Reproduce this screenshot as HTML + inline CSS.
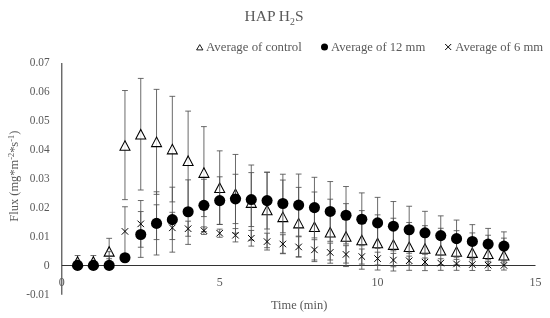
<!DOCTYPE html>
<html><head><meta charset="utf-8"><title>HAP H2S</title>
<style>html,body{margin:0;padding:0;background:#fff}svg{display:block}</style></head>
<body>
<svg width="550" height="318" viewBox="0 0 550 318">
<rect width="550" height="318" fill="#fff"/>
<g stroke="#333" stroke-width="1.05" fill="none"><path d="M61.80 63.10V294.80"/><path d="M61.80 265.40H535.50"/></g>
<g stroke="#505050" stroke-width="0.85" fill="none"><path d="M77.59 255.54V265.40M74.69 255.54h5.8M74.69 265.40h5.8"/><path d="M93.38 255.54V265.40M90.48 255.54h5.8M90.48 265.40h5.8"/><path d="M109.17 238.34V264.44M106.27 238.34h5.8M106.27 264.44h5.8"/><path d="M124.96 90.53V199.63M122.06 90.53h5.8M122.06 199.63h5.8"/><path d="M140.75 78.41V190.00M137.85 78.41h5.8M137.85 190.00h5.8"/><path d="M156.54 89.37V194.35M153.64 89.37h5.8M153.64 194.35h5.8"/><path d="M172.33 96.33V201.89M169.43 96.33h5.8M169.43 201.89h5.8"/><path d="M188.12 111.12V210.30M185.22 111.12h5.8M185.22 210.30h5.8"/><path d="M203.91 126.61V216.59M201.01 126.61h5.8M201.01 216.59h5.8"/><path d="M219.70 150.85V224.51M216.80 150.85h5.8M216.80 224.51h5.8"/><path d="M235.49 154.45V233.21M232.59 154.45h5.8M232.59 233.21h5.8"/><path d="M251.28 165.03V240.20M248.38 165.03h5.8M248.38 240.20h5.8"/><path d="M267.07 172.31V247.71M264.17 172.31h5.8M264.17 247.71h5.8"/><path d="M282.86 180.05V253.71M279.96 180.05h5.8M279.96 253.71h5.8"/><path d="M298.65 187.39V256.70M295.75 187.39h5.8M295.75 256.70h5.8"/><path d="M314.44 192.00V261.60M311.54 192.00h5.8M311.54 261.60h5.8"/><path d="M330.23 199.19V263.20M327.33 199.19h5.8M327.33 263.20h5.8"/><path d="M346.02 203.63V266.56M343.12 203.63h5.8M343.12 266.56h5.8"/><path d="M361.81 210.62V269.20M358.91 210.62h5.8M358.91 269.20h5.8"/><path d="M377.60 214.85V270.04M374.70 214.85h5.8M374.70 270.04h5.8"/><path d="M393.39 218.22V271.00M390.49 218.22h5.8M390.49 271.00h5.8"/><path d="M409.18 222.48V270.33M406.28 222.48h5.8M406.28 270.33h5.8"/><path d="M424.97 225.67V270.62M422.07 225.67h5.8M422.07 270.62h5.8"/><path d="M440.76 228.28V270.33M437.86 228.28h5.8M437.86 270.33h5.8"/><path d="M456.55 230.66V270.33M453.65 230.66h5.8M453.65 270.33h5.8"/><path d="M472.34 232.92V270.47M469.44 232.92h5.8M469.44 270.47h5.8"/><path d="M488.13 235.24V270.47M485.23 235.24h5.8M485.23 270.47h5.8"/><path d="M503.92 238.14V270.04M501.02 238.14h5.8M501.02 270.04h5.8"/></g>
<g fill="#fff" fill-opacity="0.8" stroke="#000" stroke-width="1.05" stroke-linejoin="miter"><path d="M77.59 256.73L82.59 266.23H72.59Z"/><path d="M93.38 256.73L98.38 266.23H88.38Z"/><path d="M109.17 246.64L114.17 256.14H104.17Z"/><path d="M124.96 140.76L129.96 150.26H119.96Z"/><path d="M140.75 129.45L145.75 138.95H135.75Z"/><path d="M156.54 137.11L161.54 146.61H151.54Z"/><path d="M172.33 144.36L177.33 153.86H167.33Z"/><path d="M188.12 155.96L193.12 165.46H183.12Z"/><path d="M203.91 167.85L208.91 177.35H198.91Z"/><path d="M219.70 182.93L224.70 192.43H214.70Z"/><path d="M235.49 189.08L240.49 198.58H230.49Z"/><path d="M251.28 197.86L256.28 207.36H246.28Z"/><path d="M267.07 205.26L272.07 214.76H262.07Z"/><path d="M282.86 212.13L287.86 221.63H277.86Z"/><path d="M298.65 218.37L303.65 227.87H293.65Z"/><path d="M314.44 222.05L319.44 231.55H309.44Z"/><path d="M330.23 227.42L335.23 236.92H325.23Z"/><path d="M346.02 231.65L351.02 241.15H341.02Z"/><path d="M361.81 235.16L366.81 244.66H356.81Z"/><path d="M377.60 238.23L382.60 247.73H372.60Z"/><path d="M393.39 239.86L398.39 249.36H388.39Z"/><path d="M409.18 242.09L414.18 251.59H404.18Z"/><path d="M424.97 243.83L429.97 253.33H419.97Z"/><path d="M440.76 245.57L445.76 255.07H435.76Z"/><path d="M456.55 246.79L461.55 256.29H451.55Z"/><path d="M472.34 247.89L477.34 257.39H467.34Z"/><path d="M488.13 249.05L493.13 258.55H483.13Z"/><path d="M503.92 250.50L508.92 260.00H498.92Z"/></g>
<g stroke="#505050" stroke-width="0.85" fill="none"><path d="M77.59 264.53V266.27M74.69 264.53h5.8M74.69 266.27h5.8"/><path d="M93.38 264.53V266.27M90.48 264.53h5.8M90.48 266.27h5.8"/><path d="M109.17 251.65V265.40M106.27 251.65h5.8M106.27 265.40h5.8"/><path d="M124.96 253.80V261.05M122.06 253.80h5.8M122.06 261.05h5.8"/><path d="M140.75 211.55V257.37M137.85 211.55h5.8M137.85 257.37h5.8"/><path d="M156.54 191.77V254.99M153.64 191.77h5.8M153.64 254.99h5.8"/><path d="M172.33 187.19V252.15M169.43 187.19h5.8M169.43 252.15h5.8"/><path d="M188.12 179.85V244.40M185.22 179.85h5.8M185.22 244.40h5.8"/><path d="M203.91 179.27V231.47M201.01 179.27h5.8M201.01 231.47h5.8"/><path d="M219.70 176.80V224.36M216.80 176.80h5.8M216.80 224.36h5.8"/><path d="M235.49 174.28V223.58M232.59 174.28h5.8M232.59 223.58h5.8"/><path d="M251.28 172.60V226.54M248.38 172.60h5.8M248.38 226.54h5.8"/><path d="M267.07 172.16V229.00M264.17 172.16h5.8M264.17 229.00h5.8"/><path d="M282.86 174.22V232.80M279.96 174.22h5.8M279.96 232.80h5.8"/><path d="M298.65 174.05V236.11M295.75 174.05h5.8M295.75 236.11h5.8"/><path d="M314.44 177.30V237.91M311.54 177.30h5.8M311.54 237.91h5.8"/><path d="M330.23 181.56V241.30M327.33 181.56h5.8M327.33 241.30h5.8"/><path d="M346.02 186.52V243.94M343.12 186.52h5.8M343.12 243.94h5.8"/><path d="M361.81 192.90V245.68M358.91 192.90h5.8M358.91 245.68h5.8"/><path d="M377.60 197.37V248.41M374.70 197.37h5.8M374.70 248.41h5.8"/><path d="M393.39 201.54V250.84M390.49 201.54h5.8M390.49 250.84h5.8"/><path d="M409.18 206.24V253.22M406.28 206.24h5.8M406.28 253.22h5.8"/><path d="M424.97 211.34V254.26M422.07 211.34h5.8M422.07 254.26h5.8"/><path d="M440.76 215.87V255.31M437.86 215.87h5.8M437.86 255.31h5.8"/><path d="M456.55 220.07V257.19M453.65 220.07h5.8M453.65 257.19h5.8"/><path d="M472.34 224.63V258.27M469.44 224.63h5.8M469.44 258.27h5.8"/><path d="M488.13 228.42V259.75M485.23 228.42h5.8M485.23 259.75h5.8"/><path d="M503.92 231.88V260.30M501.02 231.88h5.8M501.02 260.30h5.8"/></g>
<g stroke="#505050" stroke-width="0.85" fill="none"><path d="M77.59 264.53V266.27M74.69 264.53h5.8M74.69 266.27h5.8"/><path d="M93.38 264.53V266.27M90.48 264.53h5.8M90.48 266.27h5.8"/><path d="M109.17 258.73V265.40M106.27 258.73h5.8M106.27 265.40h5.8"/><path d="M124.96 206.76V256.06M122.06 206.76h5.8M122.06 256.06h5.8"/><path d="M140.75 200.53V247.22M137.85 200.53h5.8M137.85 247.22h5.8"/><path d="M156.54 204.79V239.59M153.64 204.79h5.8M153.64 239.59h5.8"/><path d="M172.33 212.30V239.56M169.43 212.30h5.8M169.43 239.56h5.8"/><path d="M188.12 221.17V236.25M185.22 221.17h5.8M185.22 236.25h5.8"/><path d="M203.91 226.89V234.43M201.01 226.89h5.8M201.01 234.43h5.8"/><path d="M219.70 229.15V237.27M216.80 229.15h5.8M216.80 237.27h5.8"/><path d="M235.49 228.57V241.91M232.59 228.57h5.8M232.59 241.91h5.8"/><path d="M251.28 230.45V246.11M248.38 230.45h5.8M248.38 246.11h5.8"/><path d="M267.07 233.21V250.03M264.17 233.21h5.8M264.17 250.03h5.8"/><path d="M282.86 234.72V253.28M279.96 234.72h5.8M279.96 253.28h5.8"/><path d="M298.65 236.78V257.08M295.75 236.78h5.8M295.75 257.08h5.8"/><path d="M314.44 239.71V260.01M311.54 239.71h5.8M311.54 260.01h5.8"/><path d="M330.23 243.13V260.01M327.33 243.13h5.8M327.33 260.01h5.8"/><path d="M346.02 245.68V263.08M343.12 245.68h5.8M343.12 263.08h5.8"/><path d="M361.81 249.01V264.09M358.91 249.01h5.8M358.91 264.09h5.8"/><path d="M377.60 252.20V264.96M374.70 252.20h5.8M374.70 264.96h5.8"/><path d="M393.39 253.42V266.76M390.49 253.42h5.8M390.49 266.76h5.8"/><path d="M409.18 256.12V265.11M406.28 256.12h5.8M406.28 265.11h5.8"/><path d="M424.97 258.00V265.11M422.07 258.00h5.8M422.07 265.11h5.8"/><path d="M440.76 258.73V264.82M437.86 258.73h5.8M437.86 264.82h5.8"/><path d="M456.55 259.37V264.82M453.65 259.37h5.8M453.65 264.82h5.8"/><path d="M472.34 259.89V265.11M469.44 259.89h5.8M469.44 265.11h5.8"/><path d="M488.13 261.63V265.40M485.23 261.63h5.8M485.23 265.40h5.8"/><path d="M503.92 261.92V265.40M501.02 261.92h5.8M501.02 265.40h5.8"/></g>
<g fill="#000"><circle cx="77.59" cy="265.40" r="5.55"/><circle cx="93.38" cy="265.40" r="5.55"/><circle cx="109.17" cy="265.40" r="5.55"/><circle cx="124.96" cy="257.74" r="5.55"/><circle cx="140.75" cy="234.46" r="5.55"/><circle cx="156.54" cy="223.38" r="5.55"/><circle cx="172.33" cy="219.67" r="5.55"/><circle cx="188.12" cy="211.75" r="5.55"/><circle cx="203.91" cy="205.37" r="5.55"/><circle cx="219.70" cy="200.58" r="5.55"/><circle cx="235.49" cy="198.93" r="5.55"/><circle cx="251.28" cy="199.57" r="5.55"/><circle cx="267.07" cy="200.58" r="5.55"/><circle cx="282.86" cy="203.51" r="5.55"/><circle cx="298.65" cy="205.08" r="5.55"/><circle cx="314.44" cy="207.60" r="5.55"/><circle cx="330.23" cy="211.43" r="5.55"/><circle cx="346.02" cy="215.23" r="5.55"/><circle cx="361.81" cy="219.29" r="5.55"/><circle cx="377.60" cy="222.89" r="5.55"/><circle cx="393.39" cy="226.19" r="5.55"/><circle cx="409.18" cy="229.73" r="5.55"/><circle cx="424.97" cy="232.80" r="5.55"/><circle cx="440.76" cy="235.59" r="5.55"/><circle cx="456.55" cy="238.63" r="5.55"/><circle cx="472.34" cy="241.45" r="5.55"/><circle cx="488.13" cy="244.08" r="5.55"/><circle cx="503.92" cy="246.09" r="5.55"/></g>
<g stroke="#000" stroke-width="1.0" fill="none"><path d="M74.34 262.15l6.50 6.50M74.34 268.65l6.50 -6.50"/><path d="M90.13 262.15l6.50 6.50M90.13 268.65l6.50 -6.50"/><path d="M105.92 262.15l6.50 6.50M105.92 268.65l6.50 -6.50"/><path d="M121.71 228.16l6.50 6.50M121.71 234.66l6.50 -6.50"/><path d="M137.50 220.62l6.50 6.50M137.50 227.12l6.50 -6.50"/><path d="M153.29 218.94l6.50 6.50M153.29 225.44l6.50 -6.50"/><path d="M169.08 224.59l6.50 6.50M169.08 231.09l6.50 -6.50"/><path d="M184.87 225.46l6.50 6.50M184.87 231.96l6.50 -6.50"/><path d="M200.66 227.41l6.50 6.50M200.66 233.91l6.50 -6.50"/><path d="M216.45 229.96l6.50 6.50M216.45 236.46l6.50 -6.50"/><path d="M232.24 231.99l6.50 6.50M232.24 238.49l6.50 -6.50"/><path d="M248.03 235.03l6.50 6.50M248.03 241.53l6.50 -6.50"/><path d="M263.82 238.37l6.50 6.50M263.82 244.87l6.50 -6.50"/><path d="M279.61 240.75l6.50 6.50M279.61 247.25l6.50 -6.50"/><path d="M295.40 243.68l6.50 6.50M295.40 250.18l6.50 -6.50"/><path d="M311.19 246.61l6.50 6.50M311.19 253.11l6.50 -6.50"/><path d="M326.98 249.16l6.50 6.50M326.98 255.66l6.50 -6.50"/><path d="M342.77 251.13l6.50 6.50M342.77 257.63l6.50 -6.50"/><path d="M358.56 253.30l6.50 6.50M358.56 259.80l6.50 -6.50"/><path d="M374.35 255.33l6.50 6.50M374.35 261.83l6.50 -6.50"/><path d="M390.14 256.84l6.50 6.50M390.14 263.34l6.50 -6.50"/><path d="M405.93 257.51l6.50 6.50M405.93 264.01l6.50 -6.50"/><path d="M421.72 258.81l6.50 6.50M421.72 265.31l6.50 -6.50"/><path d="M437.51 259.83l6.50 6.50M437.51 266.33l6.50 -6.50"/><path d="M453.30 260.70l6.50 6.50M453.30 267.20l6.50 -6.50"/><path d="M469.09 261.28l6.50 6.50M469.09 267.78l6.50 -6.50"/><path d="M484.88 261.86l6.50 6.50M484.88 268.36l6.50 -6.50"/><path d="M500.67 262.15l6.50 6.50M500.67 268.65l6.50 -6.50"/></g>
<g font-family="'Liberation Serif', serif" fill="#595959">
<text x="274.1" y="20.7" font-size="15" text-anchor="middle" textLength="59" lengthAdjust="spacingAndGlyphs">HAP H<tspan font-size="9.5" dy="3.8">2</tspan><tspan dy="-3.8">S</tspan></text>
<text x="49.6" y="66.25" font-size="12" text-anchor="end" textLength="19.8" lengthAdjust="spacingAndGlyphs">0.07</text>
<text x="49.6" y="95.25" font-size="12" text-anchor="end" textLength="19.8" lengthAdjust="spacingAndGlyphs">0.06</text>
<text x="49.6" y="124.25" font-size="12" text-anchor="end" textLength="19.8" lengthAdjust="spacingAndGlyphs">0.05</text>
<text x="49.6" y="153.25" font-size="12" text-anchor="end" textLength="19.8" lengthAdjust="spacingAndGlyphs">0.04</text>
<text x="49.6" y="182.25" font-size="12" text-anchor="end" textLength="19.8" lengthAdjust="spacingAndGlyphs">0.03</text>
<text x="49.6" y="211.25" font-size="12" text-anchor="end" textLength="19.8" lengthAdjust="spacingAndGlyphs">0.02</text>
<text x="49.6" y="240.25" font-size="12" text-anchor="end" textLength="19.8" lengthAdjust="spacingAndGlyphs">0.01</text>
<text x="49.6" y="269.25" font-size="12" text-anchor="end" textLength="5.9" lengthAdjust="spacingAndGlyphs">0</text>
<text x="49.6" y="298.25" font-size="12" text-anchor="end" textLength="23.4" lengthAdjust="spacingAndGlyphs">-0.01</text>
<text x="61.80" y="286.3" font-size="12" text-anchor="middle">0</text>
<text x="219.70" y="286.3" font-size="12" text-anchor="middle">5</text>
<text x="377.60" y="286.3" font-size="12" text-anchor="middle">10</text>
<text x="535.50" y="286.3" font-size="12" text-anchor="middle">15</text>
<text x="299.1" y="308.9" font-size="12" text-anchor="middle" textLength="56.4" lengthAdjust="spacingAndGlyphs">Time (min)</text>
<text transform="translate(18.2 176.2) rotate(-90)" font-size="12" text-anchor="middle" textLength="91" lengthAdjust="spacingAndGlyphs">Flux (mg*m<tspan font-size="8" dy="-4">-2</tspan><tspan dy="4">*s</tspan><tspan font-size="8" dy="-4">-1</tspan><tspan dy="4">)</tspan></text>
<text x="206.0" y="50.6" font-size="12" textLength="95.8" lengthAdjust="spacingAndGlyphs">Average of control</text>
<text x="331.0" y="50.6" font-size="12" textLength="94.3" lengthAdjust="spacingAndGlyphs">Average of 12 mm</text>
<text x="455.2" y="50.6" font-size="12" textLength="87.9" lengthAdjust="spacingAndGlyphs">Average of 6 mm</text>
</g>
<path d="M199.75 44.6L202.9 49.9H196.6Z" fill="#fff" stroke="#000" stroke-width="0.9"/>
<circle cx="324.5" cy="47" r="3.5" fill="#000"/>
<path d="M445.2 44l6 6M445.2 50l6-6" stroke="#000" stroke-width="1" fill="none"/>
</svg>
</body></html>
